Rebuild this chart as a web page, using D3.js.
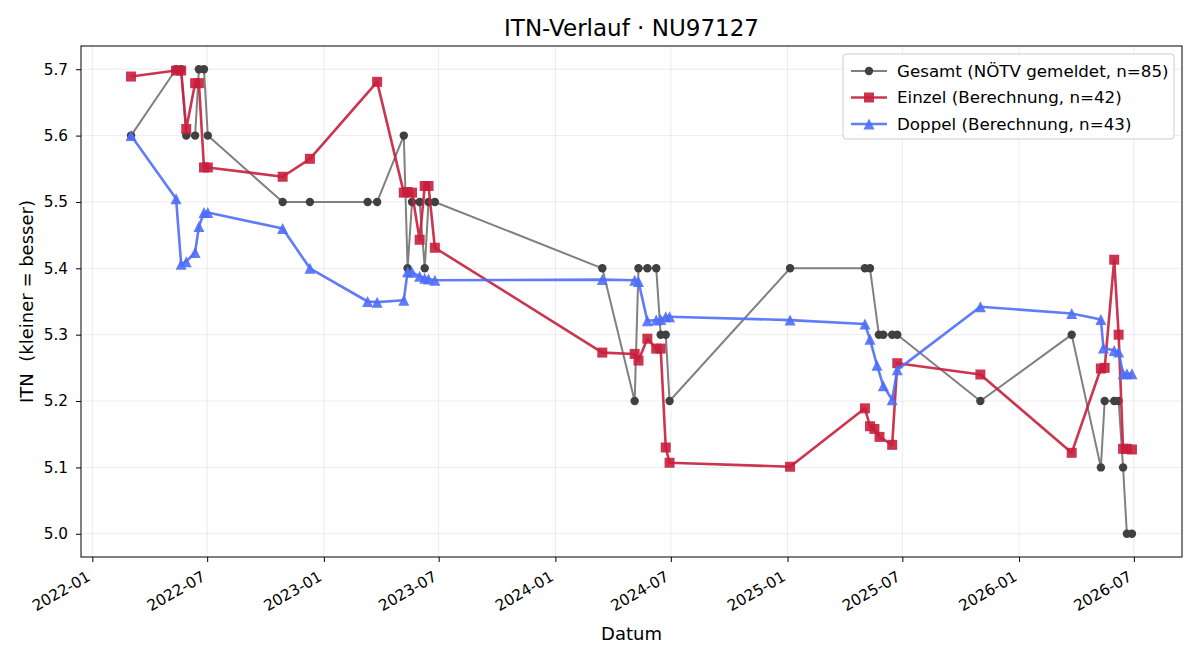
<!DOCTYPE html>
<html>
<head>
<meta charset="utf-8">
<script src="https://cdn.jsdelivr.net/npm/d3@7"></script>
<style>
  body { margin: 0; background: #fff; }
  svg { font-family: "DejaVu Sans", sans-serif; }
  .grid line { stroke: #b0b0b0; stroke-opacity: 0.3; stroke-width: 0.8; }
  .axis text { font-family: "DejaVu Sans", sans-serif; font-size: 15.3px; fill: #000; }
  .axis path, .axis line { stroke: #000; stroke-width: 1; }
</style>
</head>
<body>
<svg id="chart" width="1200" height="660"></svg>
<script>
var width = 1200, height = 660;
var margin = {"left": 81, "right": 18, "top": 46, "bottom": 103};

// Gesamt (NÖTV gemeldet)
var gesamtDates = ["2022-03-03","2022-05-13","2022-05-21","2022-05-29","2022-06-12","2022-06-18","2022-06-26","2022-07-02",
  "2022-10-28","2022-12-10","2023-03-11","2023-03-26","2023-05-07","2023-05-13","2023-05-20","2023-06-01","2023-06-09",
  "2023-06-15","2023-06-25","2024-03-15","2024-05-05","2024-05-11","2024-05-25","2024-06-08","2024-06-15","2024-06-23",
  "2024-06-29","2025-01-05","2025-05-03","2025-05-11","2025-05-25","2025-06-01","2025-06-15","2025-06-23","2025-11-01",
  "2026-03-25","2026-05-10","2026-05-16","2026-05-31","2026-06-07","2026-06-14","2026-06-20","2026-06-28"];
var gesamtValues = [5.6,5.7,5.7,5.6,5.6,5.7,5.7,5.6,
  5.5,5.5,5.5,5.5,5.6,5.4,5.5,5.5,5.4,
  5.5,5.5,5.4,5.2,5.4,5.4,5.4,5.3,5.3,
  5.2,5.4,5.4,5.4,5.3,5.3,5.3,5.3,5.2,
  5.3,5.1,5.2,5.2,5.2,5.1,5.0,5.0];

// Einzel (Berechnung)
var einzelDates = ["2022-03-03","2022-05-13","2022-05-21","2022-05-29","2022-06-12","2022-06-18","2022-06-26","2022-07-02",
  "2022-10-28","2022-12-10","2023-03-26","2023-05-07","2023-05-13","2023-05-20","2023-06-01","2023-06-09","2023-06-15",
  "2023-06-25","2024-03-15","2024-05-05","2024-05-11","2024-05-25","2024-06-08","2024-06-15","2024-06-23","2024-06-29",
  "2025-01-05","2025-05-03","2025-05-11","2025-05-18","2025-05-26","2025-06-15","2025-06-23","2025-11-01","2026-03-25",
  "2026-05-10","2026-05-16","2026-05-31","2026-06-07","2026-06-14","2026-06-20","2026-06-28"];
var einzelValues = [5.689,5.698,5.698,5.610,5.679,5.679,5.552,5.552,
  5.538,5.565,5.681,5.514,5.515,5.514,5.443,5.524,5.524,
  5.431,5.273,5.271,5.261,5.294,5.279,5.279,5.130,5.107,
  5.101,5.189,5.162,5.158,5.146,5.134,5.257,5.240,5.122,
  5.249,5.250,5.413,5.300,5.128,5.128,5.127];

// Doppel (Berechnung)
var doppelDates = ["2022-03-03","2022-05-13","2022-05-21","2022-05-29","2022-06-12","2022-06-18","2022-06-26","2022-07-02",
  "2022-10-28","2022-12-10","2023-03-11","2023-03-26","2023-05-07","2023-05-13","2023-05-20","2023-06-01","2023-06-09",
  "2023-06-15","2023-06-25","2024-03-15","2024-05-05","2024-05-11","2024-05-25","2024-06-08","2024-06-15","2024-06-23",
  "2024-06-29","2025-01-05","2025-05-03","2025-05-11","2025-05-22","2025-06-01","2025-06-15","2025-06-23","2025-11-01",
  "2026-03-25","2026-05-10","2026-05-14","2026-05-31","2026-06-07","2026-06-14","2026-06-20","2026-06-28"];
var doppelValues = [5.600,5.505,5.406,5.410,5.424,5.463,5.484,5.484,
  5.460,5.400,5.350,5.349,5.352,5.395,5.394,5.388,5.385,
  5.384,5.382,5.383,5.382,5.380,5.321,5.322,5.323,5.327,
  5.327,5.322,5.316,5.293,5.254,5.223,5.202,5.247,5.342,
  5.332,5.323,5.280,5.276,5.274,5.241,5.241,5.241];

var yTicks = [5.0, 5.1, 5.2, 5.3, 5.4, 5.5, 5.6, 5.7];
var legendLabels = ["Gesamt (NÖTV gemeldet, n=85)", "Einzel (Berechnung, n=42)", "Doppel (Berechnung, n=43)"];

var parseDate = d3.utcParse("%Y-%m-%d");

function MakeSeries(dates, values)
{
  return dates.map(function(d, i) { return {date: parseDate(d), value: values[i]}; });
}

var series = [
  {name: legendLabels[0], data: MakeSeries(gesamtDates, gesamtValues), line: "#808080", fill: "#404040", lw: 2, marker: "circle", size: 4.2, alpha: 1},
  {name: legendLabels[1], data: MakeSeries(einzelDates, einzelValues), line: "#c81e3c", fill: "#c81e3c", lw: 2.6, marker: "square", size: 10, alpha: 0.9},
  {name: legendLabels[2], data: MakeSeries(doppelDates, doppelValues), line: "#4f6ef7", fill: "#4f6ef7", lw: 2.6, marker: "triangle", size: 11, alpha: 0.9}
];

var plotW = width - margin.left - margin.right;
var plotH = height - margin.top - margin.bottom;

// matplotlib style 5% padding on both axes
var allPts = series[0].data.concat(series[1].data, series[2].data);
var xExt = d3.extent(allPts, function(d) { return +d.date; });
var yExt = d3.extent(allPts, function(d) { return d.value; });
var xPad = (xExt[1] - xExt[0]) * 0.05;
var yPad = (yExt[1] - yExt[0]) * 0.05;

var xScale = d3.scaleUtc()
               .domain([new Date(xExt[0] - xPad), new Date(xExt[1] + xPad)])
               .range([margin.left, margin.left + plotW]);
var yScale = d3.scaleLinear()
               .domain([yExt[0] - yPad, yExt[1] + yPad])
               .range([margin.top + plotH, margin.top]);

var xTicks = xScale.ticks(d3.utcMonth.every(6));

var svg = d3.select("#chart");

// grid
var grid = svg.append("g").attr("class", "grid");
grid.selectAll(".gx").data(xTicks).enter().append("line")
    .attr("x1", function(d) { return xScale(d); }).attr("x2", function(d) { return xScale(d); })
    .attr("y1", margin.top).attr("y2", margin.top + plotH);
grid.selectAll(".gy").data(yTicks).enter().append("line")
    .attr("x1", margin.left).attr("x2", margin.left + plotW)
    .attr("y1", function(d) { return yScale(d); }).attr("y2", function(d) { return yScale(d); });

// lines and markers
var line = d3.line().x(function(d) { return xScale(d.date); }).y(function(d) { return yScale(d.value); });

function MarkerPath(type, s)
{
  if(type === "square")
  {
    return d3.symbol().type(d3.symbolSquare).size(s * s)();
  }
  if(type === "triangle")
  {
    var h = s * 0.5;
    return "M0," + (-h) + "L" + h + "," + h + "L" + (-h) + "," + h + "Z";
  }
  return d3.symbol().type(d3.symbolCircle).size(Math.PI * s * s)();
}

series.forEach(function(s)
{
  var g = svg.append("g");
  g.append("path")
   .datum(s.data)
   .attr("d", line)
   .attr("fill", "none")
   .attr("stroke", s.line)
   .attr("stroke-width", s.lw)
   .attr("stroke-opacity", s.alpha)
   .attr("stroke-linejoin", "round");
  g.selectAll(".pt").data(s.data).enter().append("path")
   .attr("d", MarkerPath(s.marker, s.size))
   .attr("transform", function(d) { return "translate(" + xScale(d.date) + "," + yScale(d.value) + ")"; })
   .attr("fill", s.fill)
   .attr("fill-opacity", s.alpha);
});

// frame
svg.append("rect")
   .attr("x", margin.left).attr("y", margin.top)
   .attr("width", plotW).attr("height", plotH)
   .attr("fill", "none").attr("stroke", "#000").attr("stroke-width", 1);

// axes
var xAxis = d3.axisBottom(xScale).tickValues(xTicks).tickFormat(d3.utcFormat("%Y-%m")).tickSize(5).tickPadding(4);
var gx = svg.append("g").attr("class", "axis")
            .attr("transform", "translate(0," + (margin.top + plotH) + ")")
            .call(xAxis);
gx.select(".domain").remove();
gx.selectAll("text")
  .attr("text-anchor", "end")
  .attr("dy", "0.35em")
  .attr("transform", "translate(-4,18) rotate(-30)")
  .attr("y", 0).attr("x", 0);

var yAxis = d3.axisLeft(yScale).tickValues(yTicks).tickFormat(d3.format(".1f")).tickSize(5).tickPadding(8);
var gy = svg.append("g").attr("class", "axis")
            .attr("transform", "translate(" + margin.left + ",0)")
            .call(yAxis);
gy.select(".domain").remove();

// titles
svg.append("text")
   .attr("x", margin.left + plotW / 2).attr("y", 36)
   .attr("text-anchor", "middle")
   .style("font-size", "23px")
   .text("ITN-Verlauf · NU97127");

svg.append("text")
   .attr("x", margin.left + plotW / 2).attr("y", 640)
   .attr("text-anchor", "middle")
   .style("font-size", "18px")
   .text("Datum");

svg.append("text")
   .attr("transform", "translate(33," + (margin.top + plotH / 2) + ") rotate(-90)")
   .attr("text-anchor", "middle")
   .style("font-size", "18px")
   .style("white-space", "pre")
   .attr("xml:space", "preserve")
   .text("ITN  (kleiner = besser)");

// legend
var lg = svg.append("g").attr("transform", "translate(843,54)");
lg.append("rect")
  .attr("width", 331).attr("height", 85)
  .attr("rx", 3)
  .attr("fill", "#fff").attr("fill-opacity", 0.8)
  .attr("stroke", "#cccccc").attr("stroke-width", 1);

series.forEach(function(s, i)
{
  var yy = 17 + i * 26.5;
  lg.append("line")
    .attr("x1", 8).attr("x2", 44).attr("y1", yy).attr("y2", yy)
    .attr("stroke", s.line).attr("stroke-width", s.lw).attr("stroke-opacity", s.alpha);
  lg.append("path")
    .attr("d", MarkerPath(s.marker, s.size))
    .attr("transform", "translate(26," + yy + ")")
    .attr("fill", s.fill).attr("fill-opacity", s.alpha);
  lg.append("text")
    .attr("x", 54).attr("y", yy).attr("dy", "0.35em")
    .style("font-size", "16.7px")
    .text(s.name);
});
</script>
</body>
</html>
